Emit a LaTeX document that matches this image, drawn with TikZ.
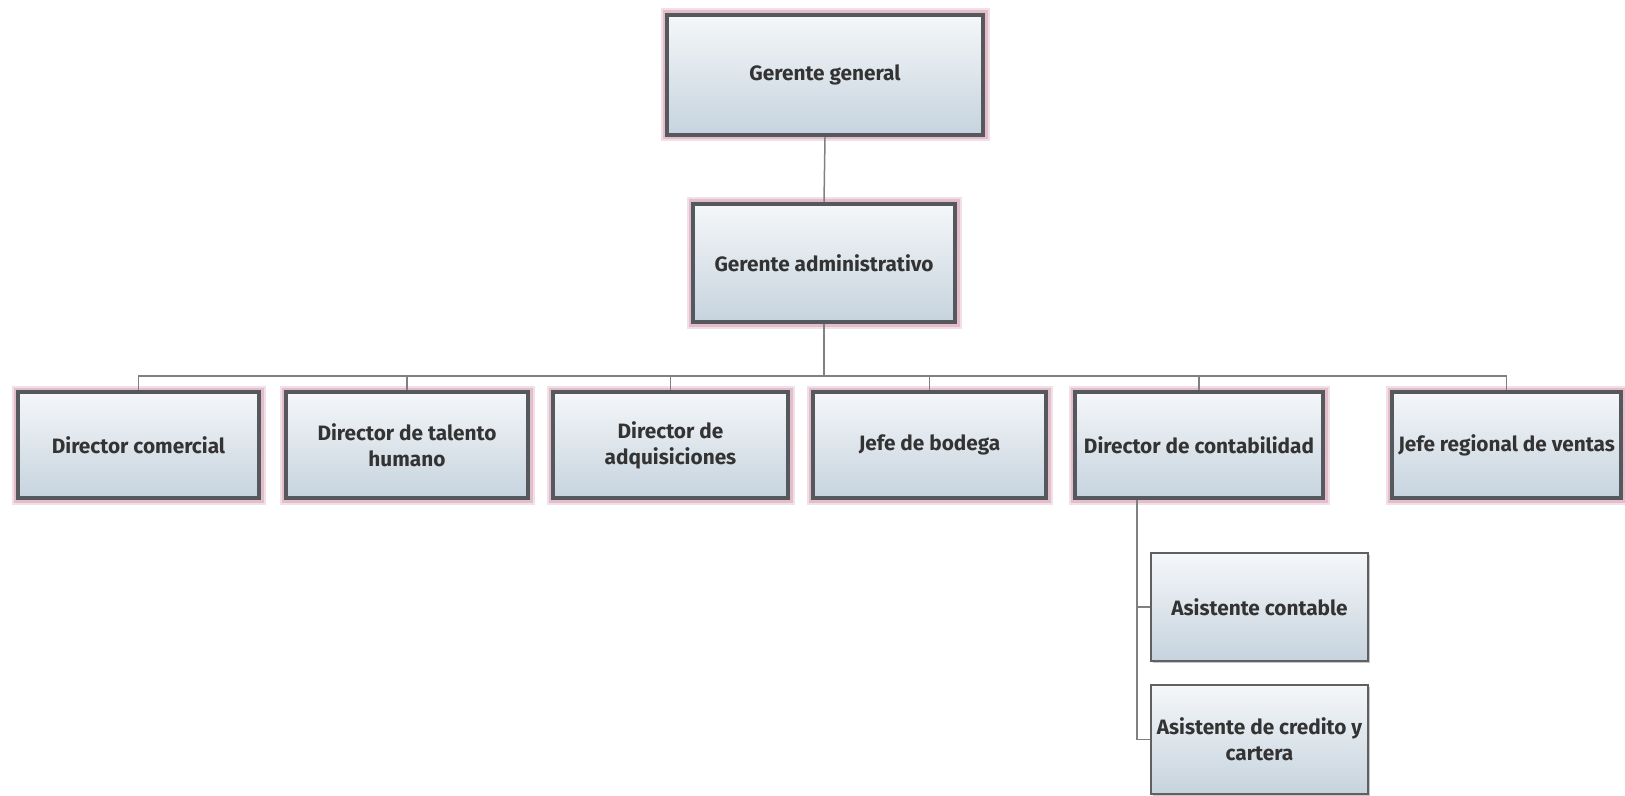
\documentclass[tikz,border=0pt]{standalone}
\usepackage{fontspec}
\setmainfont{Fira Sans}
\usetikzlibrary{shadows}
\definecolor{edgedark}{HTML}{55595D}
\definecolor{glow}{HTML}{D49AAE}
\definecolor{filltop}{HTML}{F5F7F9}
\definecolor{fillbot}{HTML}{C6D3DE}
\definecolor{linkgray}{HTML}{808080}
\definecolor{txt}{HTML}{333333}
\begin{document}
\begin{tikzpicture}[x=0.5pt,y=-0.5pt,
  labelfont/.style={font=\bfseries\fontsize{10.4}{13}\selectfont},
  mainbox/.style={rectangle, draw=edgedark, line width=2pt,
    top color=filltop, bottom color=fillbot,
    preaction={draw=glow, line width=6.5pt, opacity=0.3},
    preaction={draw=glow, line width=4.5pt, opacity=0.5},
    text=txt, labelfont, align=center,
    inner sep=0pt, outer sep=1pt},
  subbox/.style={rectangle, draw=gray!75!black, line width=0.6pt,
    top color=filltop, bottom color=fillbot,
    drop shadow={shadow xshift=1.2pt, shadow yshift=-1.2pt, fill=gray!55, opacity=0.8},
    text=txt, labelfont, align=center,
    inner sep=0pt},
  link/.style={draw=linkgray, line width=0.75pt}]
\useasboundingbox (0,0) rectangle (1625,796);

% top of the chart
\node[mainbox, minimum width=158pt, minimum height=60pt] (gg) at (825,75) {Gerente general};
\node[mainbox, minimum width=131pt, minimum height=59pt] (ga) at (824,263) {Gerente administrativo};

% directors row
\node[mainbox, minimum width=120.5pt, minimum height=53pt] (dc)   at (138.5,445) {Director comercial};
\node[mainbox, minimum width=121pt, minimum height=53pt]   (dth)  at (407,445)   {Director de talento\\humano};
\node[mainbox, minimum width=117.5pt, minimum height=53pt] (dad)  at (670.5,445) {Director de\\adquisiciones};
\node[mainbox, minimum width=116.5pt, minimum height=53pt] (jb)   at (929.5,445) {Jefe de bodega};
\node[mainbox, minimum width=124pt, minimum height=53pt]   (dcon) at (1199,445)  {Director de contabilidad};
\node[mainbox, minimum width=114.5pt, minimum height=53pt] (jrv)  at (1506.5,445) {Jefe regional de ventas};

% assistants under accounting
\node[subbox, minimum width=108.5pt, minimum height=54pt] (ac)  at (1259.5,607)   {Asistente contable};
\node[subbox, minimum width=108.5pt, minimum height=54.5pt] (acc) at (1259.5,739.5) {Asistente de credito y\\cartera};

% connectors
\coordinate (bus) at (824,376);
\coordinate (trunk) at (1137,0);
\draw[link] (gg.south) -- (ga.north);
\draw[link] (ga.south) -- (bus);
\foreach \c in {dc,dth,dad,jb,dcon,jrv}{
  \draw[link] (bus) -| (\c.north);
}
\draw[link] (dcon.south -| trunk) |- (ac.west);
\draw[link] (dcon.south -| trunk) |- (acc.west);
\end{tikzpicture}
\end{document}
